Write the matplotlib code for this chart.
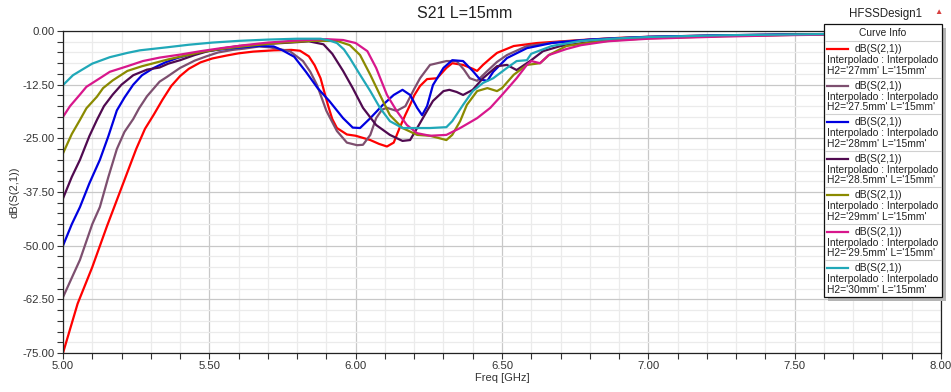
import matplotlib
matplotlib.use("Agg")
import matplotlib.pyplot as plt
from matplotlib.patches import Rectangle
from matplotlib.lines import Line2D
from matplotlib.ticker import MultipleLocator, FormatStrFormatter

plt.rcParams["font.family"] = ["Liberation Sans", "DejaVu Sans"]

# S21 curves for L = 15 mm, one per H2 value
h2_values = ["27mm", "27.5mm", "28mm", "28.5mm", "29mm", "29.5mm", "30mm"]
colors = ["#ff0000", "#7d4f6f", "#0000e0", "#500a50", "#8a8a00", "#d8178c", "#20a8b8"]

tail_f = [6.90, 7.00, 7.25, 7.50, 7.75, 8.00]

freq_27 = [5.00, 5.05, 5.10, 5.15, 5.20, 5.25, 5.28, 5.31, 5.34, 5.37, 5.40, 5.43, 5.47,
           5.51, 5.56, 5.60, 5.65, 5.72, 5.78, 5.81, 5.84, 5.86, 5.88, 5.905, 5.92, 5.936,
           5.97, 6.00, 6.05, 6.08, 6.107, 6.13, 6.15, 6.17, 6.186, 6.20, 6.22, 6.244,
           6.278, 6.31, 6.33, 6.367, 6.40, 6.415, 6.435, 6.46, 6.483, 6.54, 6.62, 6.77] + tail_f
s21_27 = [-75.0, -63.5, -55.0, -45.5, -36.5, -27.5, -22.8, -19.5, -16.0, -12.8, -10.5, -8.8, -7.3,
          -6.4, -5.7, -5.2, -4.8, -4.5, -4.4, -4.6, -5.9, -8.0, -11.0, -17.2, -20.5, -22.6,
          -24.1, -24.4, -25.4, -26.3, -26.9, -26.0, -22.6, -19.5, -17.2, -15.0, -12.8, -11.2,
          -11.0, -8.6, -7.5, -7.9, -8.8, -9.3, -7.9, -6.4, -5.1, -3.5, -2.8, -2.1,
          -1.6, -1.35, -1.0, -0.8, -0.6, -0.45]

freq_275 = [5.00, 5.058, 5.10, 5.126, 5.155, 5.184, 5.21, 5.24, 5.26, 5.287, 5.33, 5.355,
            5.40, 5.45, 5.49, 5.53, 5.58, 5.62, 5.67, 5.707, 5.775, 5.82, 5.845, 5.868, 5.90,
            5.936, 5.97, 6.005, 6.025, 6.05, 6.07, 6.09, 6.107, 6.14, 6.17, 6.20, 6.22, 6.254,
            6.31, 6.345, 6.37, 6.39, 6.415, 6.45, 6.483, 6.517, 6.585, 6.70, 6.85] + tail_f[1:]
s21_275 = [-62.0, -53.3, -45.0, -41.0, -34.0, -27.5, -23.5, -20.5, -18.0, -15.2, -11.8, -10.7,
           -8.6, -6.9, -5.9, -5.0, -4.4, -4.1, -3.6, -3.8, -4.7, -7.0, -9.5, -12.6, -18.6,
           -23.3, -26.0, -26.6, -26.5, -24.2, -20.3, -18.3, -17.9, -18.6, -17.5, -13.5, -11.0, -7.9,
           -7.0, -7.0, -9.0, -11.0, -11.6, -9.3, -7.2, -5.6, -3.5, -2.5, -1.8,
           -1.4, -1.05, -0.8, -0.62, -0.47]

freq_28 = [5.00, 5.03, 5.058, 5.09, 5.126, 5.155, 5.184, 5.21, 5.24, 5.27, 5.31, 5.35, 5.39,
           5.44, 5.49, 5.54, 5.58, 5.63, 5.67, 5.72, 5.75, 5.79, 5.83, 5.87, 5.91, 5.957, 5.99,
           6.015, 6.05, 6.093, 6.13, 6.16, 6.186, 6.21, 6.227, 6.244, 6.264, 6.30, 6.33, 6.367,
           6.40, 6.425, 6.45, 6.47, 6.517, 6.585, 6.67, 6.80] + tail_f[1:]
s21_28 = [-50.0, -45.0, -41.0, -35.5, -30.0, -24.5, -18.5, -15.5, -12.5, -10.3, -8.6, -7.3, -6.3,
          -5.4, -4.7, -4.3, -4.0, -3.7, -3.5, -3.6, -4.5, -6.0, -9.5, -13.3, -16.3, -20.3, -22.5,
          -22.6, -20.3, -17.2, -14.9, -13.7, -14.9, -17.9, -19.6, -17.5, -12.6, -8.6, -6.8, -7.0,
          -9.3, -11.3, -11.6, -9.5, -6.3, -4.0, -2.8, -2.0,
          -1.35, -1.0, -0.78, -0.6, -0.45]

freq_285 = [5.00, 5.03, 5.058, 5.09, 5.116, 5.14, 5.17, 5.20, 5.24, 5.287, 5.33, 5.36, 5.40,
            5.45, 5.49, 5.55, 5.60, 5.70, 5.80, 5.84, 5.89, 5.92, 5.957, 5.99, 6.025, 6.07,
            6.117, 6.16, 6.186, 6.21, 6.244, 6.264, 6.30, 6.32, 6.345, 6.367, 6.40, 6.435,
            6.483, 6.517, 6.55, 6.60, 6.64, 6.70, 6.80] + tail_f
s21_285 = [-39.0, -34.0, -30.0, -24.5, -20.7, -17.5, -14.8, -12.5, -10.3, -9.0, -8.5, -7.6, -6.8,
           -5.6, -4.8, -4.0, -3.5, -3.0, -2.6, -2.4, -3.1, -5.3, -9.3, -13.3, -17.9, -21.9,
           -24.2, -25.6, -25.4, -22.6, -18.6, -16.3, -14.0, -13.7, -14.2, -14.9, -13.7, -11.0,
           -8.2, -7.9, -9.1, -6.8, -4.7, -3.5, -2.6,
           -2.0, -1.6, -1.15, -0.85, -0.65, -0.5]

freq_29 = [5.00, 5.03, 5.058, 5.08, 5.116, 5.137, 5.17, 5.22, 5.27, 5.31, 5.36, 5.42, 5.48,
           5.54, 5.60, 5.67, 5.75, 5.85, 5.936, 5.98, 6.015, 6.05, 6.083, 6.117, 6.16, 6.21,
           6.254, 6.31, 6.33, 6.357, 6.38, 6.415, 6.45, 6.483, 6.50, 6.54, 6.585, 6.63, 6.66,
           6.72, 6.80] + tail_f
s21_29 = [-28.5, -24.0, -20.7, -18.0, -15.3, -13.3, -11.5, -9.3, -8.2, -7.5, -6.6, -5.7, -4.8,
          -4.2, -3.7, -3.2, -2.7, -2.3, -2.3, -3.3, -5.6, -10.2, -14.9, -19.6, -22.6, -24.2,
          -24.4, -25.4, -24.2, -21.0, -17.2, -14.0, -13.3, -14.0, -13.3, -10.2, -7.9, -7.5, -5.6,
          -3.5, -2.7,
          -2.1, -1.7, -1.2, -0.9, -0.68, -0.5]

freq_295 = [5.00, 5.024, 5.058, 5.08, 5.126, 5.16, 5.22, 5.273, 5.33, 5.40, 5.47, 5.54, 5.62,
            5.70, 5.80, 5.90, 5.957, 6.00, 6.04, 6.07, 6.107, 6.14, 6.175, 6.21, 6.254, 6.31,
            6.357, 6.415, 6.46, 6.50, 6.55, 6.585, 6.60, 6.63, 6.66, 6.72, 6.77, 6.86,
            7.00, 7.25, 7.50, 7.75, 8.00]
s21_295 = [-20.0, -17.5, -14.8, -13.0, -11.0, -9.5, -8.2, -7.0, -6.2, -5.5, -4.7, -4.0, -3.3,
           -2.7, -2.2, -1.9, -2.1, -2.8, -4.7, -8.6, -14.9, -18.6, -21.9, -23.8, -24.4, -24.2,
           -22.6, -20.3, -17.9, -14.9, -11.0, -7.9, -7.0, -7.5, -5.6, -4.2, -3.3, -2.4,
           -1.8, -1.3, -0.95, -0.72, -0.55]

freq_30 = [5.00, 5.034, 5.068, 5.10, 5.16, 5.22, 5.263, 5.355, 5.43, 5.51, 5.60, 5.70, 5.80,
           5.88, 5.91, 5.936, 5.96, 5.98, 6.015, 6.05, 6.083, 6.117, 6.16, 6.21, 6.254, 6.31,
           6.33, 6.367, 6.40, 6.435, 6.47, 6.517, 6.55, 6.585, 6.60, 6.67, 6.77] + tail_f
s21_30 = [-12.6, -10.3, -8.9, -7.6, -6.1, -5.1, -4.5, -3.8, -3.2, -2.7, -2.3, -2.0, -1.8,
          -1.8, -2.2, -2.8, -4.3, -6.3, -10.2, -14.0, -17.9, -21.0, -22.6, -22.6, -22.6, -22.4,
          -21.0, -17.2, -14.0, -12.1, -11.0, -8.6, -7.0, -6.8, -5.3, -3.5, -2.3,
          -1.7, -1.4, -1.0, -0.8, -0.6, -0.45]

freqs = [freq_27, freq_275, freq_28, freq_285, freq_29, freq_295, freq_30]
s21 = [s21_27, s21_275, s21_28, s21_285, s21_29, s21_295, s21_30]

W, H = 951, 392
fig = plt.figure(figsize=(W / 100, H / 100), dpi=100)
fig.patch.set_facecolor("white")


def fx(px):
    return px / W


def fy(py):
    return 1 - py / H


ax = fig.add_axes([fx(63), fy(353), fx(941) - fx(63), fy(31) - fy(353)])

for f, s, c in zip(freqs, s21, colors):
    ax.plot(f, s, color=c, lw=1.6, solid_joinstyle="round")

ax.set_xlim(5.0, 8.0)
ax.set_ylim(-75.0, 0.0)
ax.xaxis.set_major_locator(MultipleLocator(0.5))
ax.xaxis.set_minor_locator(MultipleLocator(0.1))
ax.yaxis.set_major_locator(MultipleLocator(12.5))
ax.yaxis.set_minor_locator(MultipleLocator(2.5))
ax.xaxis.set_major_formatter(FormatStrFormatter("%.2f"))
ax.yaxis.set_major_formatter(FormatStrFormatter("%.2f"))
ax.grid(which="major", color="#c8c8c8", lw=0.9)
ax.grid(which="minor", color="#ebebeb", lw=0.9)
ax.set_axisbelow(True)
ax.tick_params(which="both", direction="out", colors="#333333", labelsize=8.2,
               length=4, width=0.8)
ax.tick_params(axis="x", pad=2)
ax.tick_params(axis="y", pad=2)
for sp in ax.spines.values():
    sp.set_color("#222222")
    sp.set_linewidth(0.9)

ax.set_xlabel("Freq [GHz]", fontsize=8, color="#333333", labelpad=1)
ax.set_ylabel("dB(S(2,1))", fontsize=8, color="#333333", labelpad=2)

fig.text(fx(465), fy(14), "S21 L=15mm", fontsize=11.5, ha="center", va="center",
         color="#222222")
fig.text(fx(885), fy(14), "HFSSDesign1", fontsize=8.3, ha="center", va="center",
         color="#222222")
fig.text(fx(938), fy(12), "\u25b2", fontsize=6, ha="center", va="center", color="#d84040")

# curve info box
bx0, by0, bx1, by1 = 824, 24, 942, 297
fig.add_artist(Rectangle((fx(bx0 + 4), fy(by1 + 4)), fx(bx1) - fx(bx0), fy(by0) - fy(by1),
                         transform=fig.transFigure, facecolor="#b4b4b4", edgecolor="none"))
fig.add_artist(Rectangle((fx(bx0), fy(by1)), fx(bx1) - fx(bx0), fy(by0) - fy(by1),
                         transform=fig.transFigure, facecolor="white", edgecolor="#111111",
                         lw=0.9))
fig.text(fx((bx0 + bx1) / 2), fy(33), "Curve Info", fontsize=7.4, ha="center", va="center",
         color="#222222")
row_h = (by1 - 41) / 7
for i, (h2, c) in enumerate(zip(h2_values, colors)):
    top = 41 + i * row_h
    fig.add_artist(Line2D([fx(bx0 + 1), fx(bx1 - 1)], [fy(top), fy(top)],
                          transform=fig.transFigure, color="#d0d0d0", lw=0.8))
    fig.add_artist(Line2D([fx(827), fx(848)], [fy(top + 8), fy(top + 8)],
                          transform=fig.transFigure, color=c, lw=1.6))
    fig.text(fx(855), fy(top + 8), "dB(S(2,1))", fontsize=7.4, va="center",
             color="#222222")
    fig.text(fx(827), fy(top + 19), "Interpolado : Interpolado", fontsize=7.4,
             va="center", color="#222222")
    fig.text(fx(827), fy(top + 29.5), f"H2='{h2}' L='15mm'", fontsize=7.4,
             va="center", color="#222222")

fig.savefig("out.png", dpi=100)
